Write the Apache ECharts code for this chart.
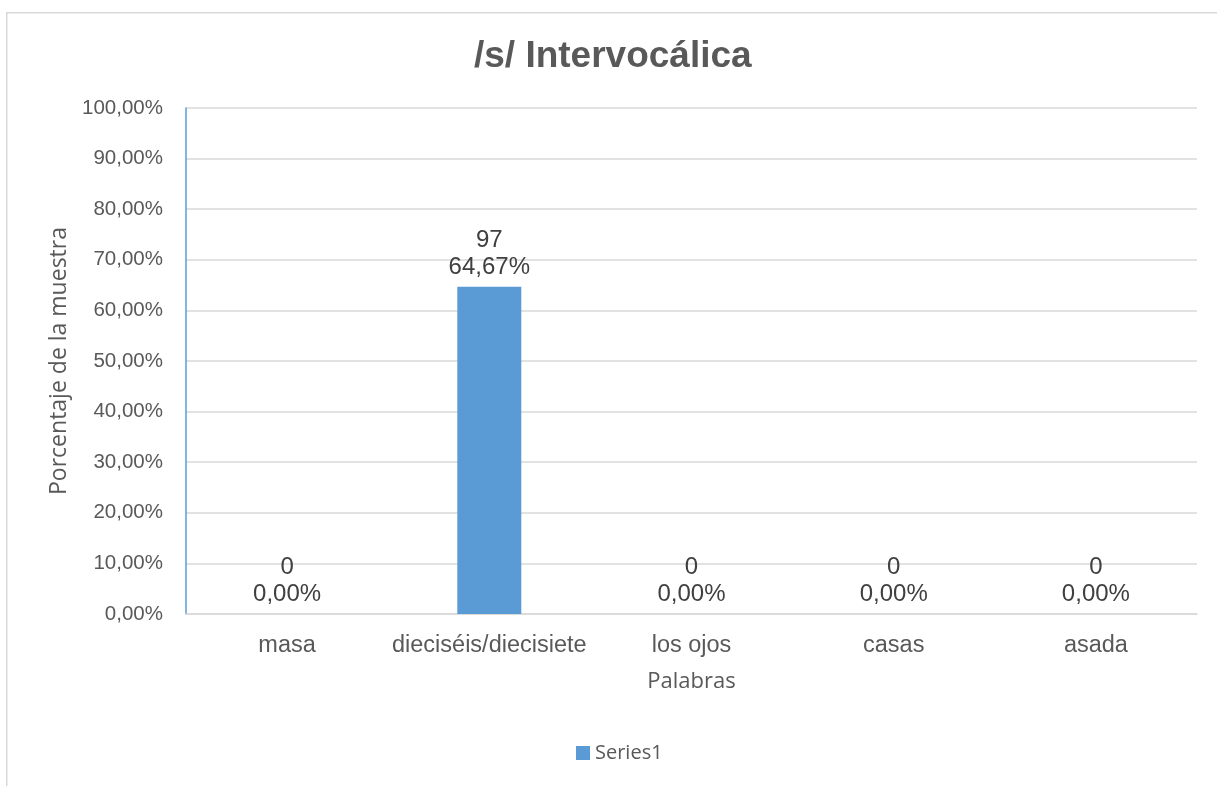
<!DOCTYPE html>
<html>
<head>
<meta charset="utf-8">
<script src="https://cdn.jsdelivr.net/npm/echarts@6/dist/echarts.min.js"></script>
<style>
html,body{margin:0;padding:0;background:#fff;}
#c{width:1217px;height:786px;}
</style>
</head>
<body>
<div id="c"></div>
<script>
const categories = ['masa', 'dieciséis/diecisiete', 'los ojos', 'casas', 'asada'];
const counts = [0, 97, 0, 0, 0];
const percents = [0, 64.67, 0, 0, 0];
const yTicks = [0, 10, 20, 30, 40, 50, 60, 70, 80, 90, 100];

const fmtPct = v => v.toFixed(2).replace('.', ',') + '%';
const SANS = 'Arial, "Liberation Sans", sans-serif';
const CAL = '"Open Sans", "Noto Sans", sans-serif';

const chart = echarts.init(document.getElementById('c'), null, {renderer: 'canvas'});
chart.setOption({
  animation: false,
  backgroundColor: '#fff',
  graphic: [{
    type: 'rect', left: 6, top: 12, z: -1,
    shape: {width: 1230, height: 800},
    style: {fill: '#fff', stroke: '#d9d9d9', lineWidth: 1.5}
  }],
  title: {
    text: '/s/ Intervocálica',
    left: 469, top: 33,
    textStyle: {fontFamily: SANS, fontWeight: 'bold', fontSize: 37, color: '#595959'}
  },
  legend: {
    top: 738, left: 571,
    icon: 'rect', itemWidth: 14, itemHeight: 14, itemGap: 6,
    textStyle: {fontFamily: CAL, fontSize: 20, color: '#595959'},
    data: ['Series1']
  },
  grid: {left: 186, right: 20, top: 108, bottom: 172},
  xAxis: {
    type: 'category', data: categories,
    name: 'Palabras', nameLocation: 'middle', nameGap: 57,
    nameTextStyle: {fontFamily: CAL, fontSize: 22, color: '#595959'},
    axisLine: {lineStyle: {color: '#d9d9d9', width: 1.5}},
    axisTick: {show: false},
    axisLabel: {interval: 0, margin: 20, fontFamily: SANS, fontSize: 23.5, color: '#595959'}
  },
  yAxis: {
    type: 'value', min: yTicks[0], max: yTicks[yTicks.length - 1], interval: yTicks[1] - yTicks[0],
    name: 'Porcentaje de la muestra', nameLocation: 'middle', nameGap: 108,
    nameTextStyle: {fontFamily: CAL, fontSize: 23, color: '#595959'},
    axisLine: {show: true, lineStyle: {color: '#5B9BD5', width: 1.5}},
    axisTick: {show: false},
    splitLine: {lineStyle: {color: '#d9d9d9', width: 1.5}},
    axisLabel: {margin: 23, fontFamily: SANS, fontSize: 20.5, color: '#595959', formatter: v => fmtPct(v)}
  },
  series: [{
    name: 'Series1', type: 'bar',
    data: percents, barWidth: 64,
    itemStyle: {color: '#5B9BD5'},
    label: {
      show: true, position: 'top', distance: 6,
      fontFamily: SANS, fontSize: 24, color: '#404040', lineHeight: 27, align: 'center',
      formatter: p => counts[p.dataIndex] + '\n' + fmtPct(percents[p.dataIndex])
    }
  }]
});
</script>
</body>
</html>
